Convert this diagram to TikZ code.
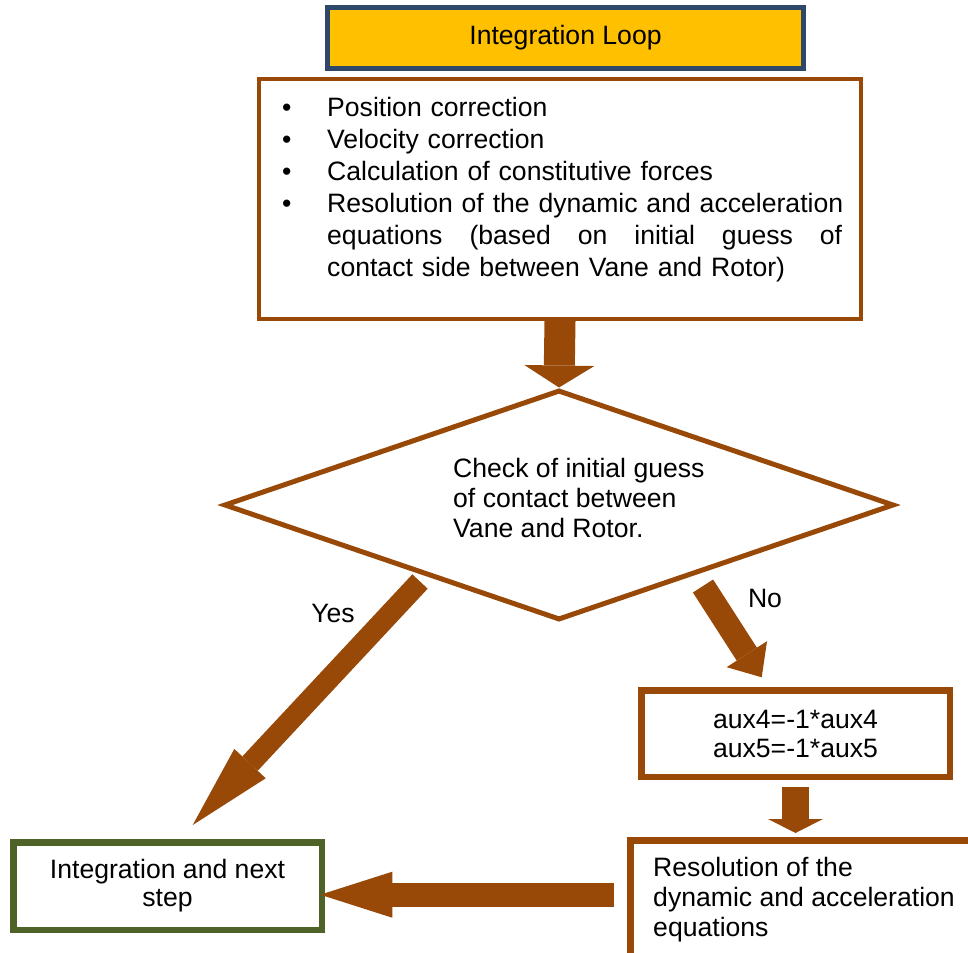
\documentclass[tikz,border=0pt]{standalone}
\usepackage{fontspec}
\setmainfont{Liberation Sans}
\usepackage{xcolor}
\usetikzlibrary{shapes.geometric,arrows.meta}

\definecolor{brownline}{HTML}{984807}
\definecolor{goldfill}{HTML}{FFC000}
\definecolor{navyline}{HTML}{2F4869}
\definecolor{oliveline}{HTML}{4F6228}

\newcommand{\bul}{\leavevmode\llap{\makebox[45pt][l]{\textbullet}}}

\tikzset{
	every node/.style={font=\fontsize{26.6pt}{30pt}\selectfont, inner sep=0pt},
	box/.style={draw=brownline, line width=#1, fill=white},
	box/.default=6.5pt,
	fatarrow/.style n args={3}{draw=brownline, line width=#1, -{Triangle[width=#2, length=#3, line width=0pt]}},
}

\begin{document}
\begin{tikzpicture}[x=1pt, y=-1pt]
			\useasboundingbox (0,0) rectangle (968,952);
			
			%Title
			\node[draw=navyline, line width=5pt, fill=goldfill, minimum width=476pt, minimum height=61pt] (title) at (565.5,38) {Integration Loop};
			
			%Steps
			\node[box=4.3pt, minimum width=601.7pt, minimum height=239.7pt] (steps) at (560,199) {};
			\node[anchor=base west, text width=560pt, font=\fontsize{26.6pt}{32pt}\selectfont] (stepstext) at (282,117) {\leftskip=45pt
				\bul Position correction\par
				\bul Velocity correction\par
				\bul Calculation of constitutive forces\par
				\bul\hbox to 515pt{Resolution of the dynamic and acceleration\hfil}\par
				\leavevmode\hbox to 515pt{equations\hfill (based\hfill on\hfill initial\hfill guess\hfill of}\par
				contact side between Vane and Rotor)\par};
			
			%Check
			\node[shape=diamond, box=5pt, aspect=2.913, minimum width=670pt, minimum height=230pt] (check) at (559,505) {};
			\node[anchor=base west, align=left] (checktext) at (453,537) {Check of initial guess\\of contact between\\Vane and Rotor.};
			
			%Sign change
			\node[box, minimum width=308.5pt, minimum height=86.5pt, align=center, font=\fontsize{26.6pt}{29pt}\selectfont] (aux) at (795.5,733.5) {aux4=-1*aux4\\aux5=-1*aux5};
			
			%Resolution
			\node[box=7pt, minimum width=369.5pt, minimum height=149.5pt] (res) at (815.25,915.25) {};
			\node[anchor=base west, align=left] (restext) at (653,936.7) {Resolution of the\\dynamic and acceleration\\equations};
			
			%Integration
			\node[box, draw=oliveline, minimum width=308.5pt, minimum height=87.5pt, align=center, font=\fontsize{26.6pt}{28pt}\selectfont] (integ) at (167.5,886) {Integration and next\\step};
			
			%Labels
			\node (yes) at (333,613) {Yes};
			\node (no) at (765,598) {No};
			
			%Arrows
			\coordinate (yestail) at (420,581.5);
			\coordinate (yestip) at (192.7,825);
			\coordinate (notail) at (703,586);
			\coordinate (notip) at (761.7,677.3);
			\coordinate (lefttail) at (614,894.7);
			\draw[fatarrow={31pt}{70pt}{22pt}] (steps.south) -- (check.north);
			\draw[fatarrow={21pt}{43pt}{84pt}] (yestail) -- (yestip);
			\draw[fatarrow={24pt}{48pt}{27.5pt}] (notail) -- (notip);
			\draw[fatarrow={27pt}{55pt}{14pt}, shorten <=7pt, shorten >=4pt] (aux.south) -- (aux.south |- res.north);
			\draw[fatarrow={24pt}{46pt}{72pt}, shorten >=-4.75pt] (lefttail) -- (lefttail -| integ.east);
\end{tikzpicture}
\end{document}
